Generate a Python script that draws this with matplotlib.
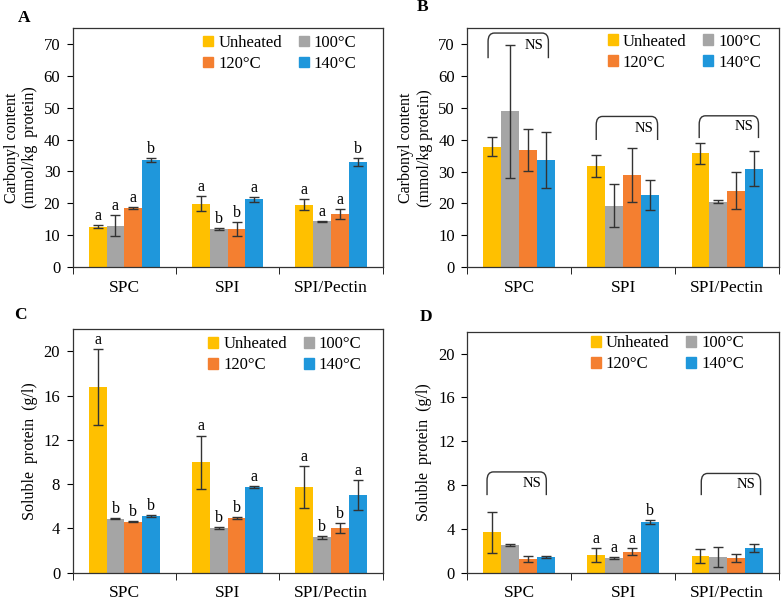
import numpy as np
import matplotlib.pyplot as plt
from matplotlib.path import Path
from matplotlib.patches import PathPatch, Patch

plt.rcParams['font.family'] = ['Liberation Serif', 'DejaVu Serif']

groups = ['SPC', 'SPI', 'SPI/Pectin']
series = ['Unheated', '100°C', '120°C', '140°C']
colors = ['#FFC000', '#A5A5A5', '#F47F30', '#1F97DB']

# A: carbonyl content
carb_a = [[12.6, 19.9, 19.5],
          [13.0, 11.9, 14.3],
          [18.4, 11.9, 16.6],
          [33.7, 21.2, 33.0]]
carb_a_err = [[0.5, 2.4, 1.7],
              [3.2, 0.2, 0.2],
              [0.3, 2.3, 1.6],
              [0.6, 0.9, 1.2]]
carb_a_let = [['a', 'a', 'a'],
              ['a', 'b', 'a'],
              ['a', 'b', 'a'],
              ['b', 'a', 'b']]

# B: carbonyl content
carb_b = [[37.8, 31.8, 35.7],
          [48.9, 19.3, 20.5],
          [36.8, 28.9, 24.0],
          [33.6, 22.6, 30.8]]
carb_b_err = [[3.0, 3.5, 3.4],
              [20.9, 6.7, 0.5],
              [6.6, 8.5, 5.8],
              [8.7, 4.8, 5.5]]

# C: soluble protein
sol_c = [[16.77, 10.0, 7.72],
         [4.89, 4.04, 3.2],
         [4.59, 4.92, 4.01],
         [5.13, 7.75, 7.03]]
sol_c_err = [[3.45, 2.4, 1.9],
             [0.05, 0.06, 0.14],
             [0.05, 0.08, 0.45],
             [0.08, 0.05, 1.33]]
sol_c_let = [['a', 'a', 'a'],
             ['b', 'b', 'b'],
             ['b', 'b', 'b'],
             ['b', 'a', 'a']]

# D: soluble protein
sol_d = [[3.71, 1.61, 1.52],
         [2.55, 1.31, 1.43],
         [1.25, 1.92, 1.34],
         [1.43, 4.62, 2.25]]
sol_d_err = [[1.87, 0.64, 0.65],
             [0.1, 0.08, 0.93],
             [0.23, 0.32, 0.35],
             [0.05, 0.17, 0.38]]
sol_d_let = [[None, 'a', None],
             [None, 'a', None],
             [None, 'a', None],
             [None, 'b', None]]

# NS brackets: (group, left offset, right offset, bottom, top)
ns_b = [(0, -0.30, 0.28, 65.6, 73.5), (1, -0.26, 0.33, 39.9, 47.3), (2, -0.27, 0.30, 40.5, 47.5)]
ns_d = [(0, -0.31, 0.26, 7.08, 9.2), (2, -0.25, 0.32, 7.08, 9.06)]

bw = 0.172
fs = 11.5


def bracket(ax, g, l, r, yb, yt, yr):
    x0, x1 = g + l, g + r
    rx = 0.06
    ry = yr * 0.035
    verts = [(x0, yb), (x0, yt - ry), (x0, yt), (x0 + rx, yt),
             (x1 - rx, yt), (x1, yt), (x1, yt - ry), (x1, yb)]
    codes = [Path.MOVETO, Path.LINETO, Path.CURVE3, Path.CURVE3,
             Path.LINETO, Path.CURVE3, Path.CURVE3, Path.LINETO]
    ax.add_patch(PathPatch(Path(verts, codes), fill=False, lw=1.0, ec='#333333'))
    ax.text(x1 - 0.135, yb + (yt - yb) * 0.5, 'NS', ha='center', va='center', fontsize=10.5)


def panel(ax, vals, errs, ymax, yticks, ylabel, leg_at, letters=None, brackets=None, off=0.4):
    x = np.arange(len(groups))
    for i in range(4):
        xi = x + (i - 1.5) * bw
        ax.bar(xi, vals[i], bw, color=colors[i], yerr=errs[i],
               error_kw=dict(ecolor='#333333', elinewidth=1.0, capsize=3.5, capthick=1.0))
        if letters is not None:
            for j in range(len(groups)):
                if letters[i][j]:
                    ax.text(xi[j], vals[i][j] + errs[i][j] + off, letters[i][j],
                            ha='center', va='bottom', fontsize=fs)
    if brackets:
        for b in brackets:
            bracket(ax, *b, ymax)
    ax.set_xlim(-0.5, 2.5)
    ax.set_ylim(0, ymax)
    ax.set_yticks(yticks)
    ax.set_xticks(x)
    ax.set_xticklabels(groups, fontsize=12.5)
    ax.set_xticks(np.arange(-0.5, 3.0, 1.0), minor=True)
    ax.tick_params(axis='x', which='major', length=0, pad=9)
    ax.tick_params(axis='x', which='minor', length=5, direction='out')
    ax.tick_params(axis='y', labelsize=fs + 0.5, length=4, direction='out', pad=5)
    ax.set_ylabel(ylabel, fontsize=11.5, labelpad=4)
    for s in ax.spines.values():
        s.set_linewidth(0.9)
        s.set_color('#333333')
    handles = [Patch(color=colors[k]) for k in (0, 2, 1, 3)]
    labels = [series[k] for k in (0, 2, 1, 3)]
    ax.legend(handles, labels, ncol=2, frameon=False, fontsize=fs + 0.5,
              loc='upper right', bbox_to_anchor=leg_at,
              handlelength=0.6, handleheight=0.6, handletextpad=0.3,
              columnspacing=1.0, labelspacing=0.3, borderpad=0.2)


fig = plt.figure(figsize=(7.81, 5.98), dpi=100)
axA = fig.add_axes([0.0931, 0.5535, 0.3969, 0.3997])
axB = fig.add_axes([0.5983, 0.5535, 0.3995, 0.3992])
axC = fig.add_axes([0.0931, 0.0423, 0.3969, 0.4070])
axD = fig.add_axes([0.5983, 0.0423, 0.3995, 0.4030])

panel(axA, carb_a, carb_a_err, 75, range(0, 80, 10),
      'Carbonyl content\n(mmol/kg  protein)', (0.953, 1.02), letters=carb_a_let, off=0.3)
panel(axB, carb_b, carb_b_err, 75, range(0, 80, 10),
      'Carbonyl content\n(mmol/kg protein)', (0.978, 1.027), brackets=ns_b)
panel(axC, sol_c, sol_c_err, 22, range(0, 24, 4),
      'Soluble  protein  (g/l)', (0.969, 1.02), letters=sol_c_let, off=0.1)
panel(axD, sol_d, sol_d_err, 22, range(0, 24, 4),
      'Soluble  protein  (g/l)', (0.924, 1.033), letters=sol_d_let, brackets=ns_d, off=0.1)

for lab, (px, py) in zip('ABCD', [(24, 18), (423, 7), (20, 315), (426, 317)]):
    fig.text(px / 781, 1 - py / 598, lab, fontsize=12.5, fontweight='bold',
             ha='center', va='center')

fig.savefig('out.png', dpi=100)
